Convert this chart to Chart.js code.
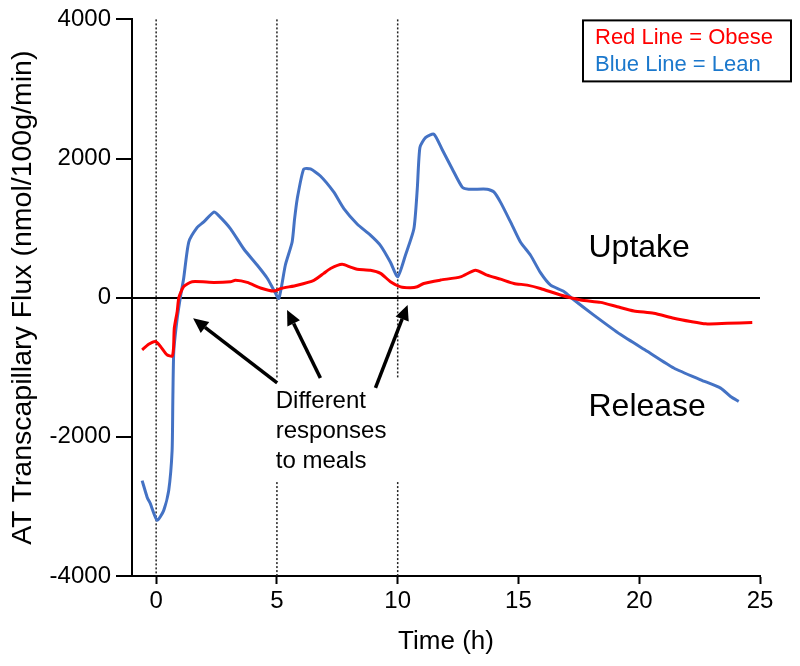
<!DOCTYPE html>
<html>
<head>
<meta charset="utf-8">
<style>
  html, body { margin: 0; padding: 0; background: #fff; }
  #wrap { width: 800px; height: 666px; }
</style>
<script src="https://cdn.jsdelivr.net/npm/chart.js@4.4.0/dist/chart.umd.min.js"></script>
</head>
<body>
<div id="wrap"><canvas id="fluxChart"></canvas></div>
<script>
// Lean (blue) and obese (red) AT transcapillary flux over 24 h
const leanTime = [-0.58, -0.37, -0.24, 0.04, 0.31, 0.52, 0.66, 0.69, 0.73, 0.87, 1.0, 1.14, 1.35, 1.7, 1.97, 2.39, 2.59, 3.08, 3.63, 4.18, 4.6, 4.87, 5.08, 5.35, 5.63, 5.73, 5.84, 6.11, 6.39, 6.8, 7.35, 7.77, 8.32, 8.87, 9.29, 9.7, 10.0, 10.32, 10.67, 10.81, 10.92, 11.15, 11.5, 11.84, 12.26, 12.67, 12.94, 13.7, 13.98, 14.26, 14.67, 15.08, 15.5, 15.91, 16.33, 16.88, 17.29, 18.12, 19.23, 20.33, 21.43, 22.54, 23.37, 23.78, 24.12];
const leanFlux = [-2630, -2870, -2960, -3200, -3060, -2770, -2200, -1490, -770, -300, 0, 280, 800, 1010, 1090, 1230, 1180, 990, 700, 470, 280, 110, -10, 470, 800, 1130, 1420, 1850, 1850, 1750, 1520, 1280, 1060, 900, 750, 510, 300, 610, 990, 1560, 2160, 2300, 2350, 2130, 1850, 1590, 1560, 1560, 1520, 1370, 1090, 800, 610, 360, 180, 90, -30, -250, -530, -770, -1010, -1180, -1300, -1420, -1490];

const obeseTime = [-0.58, -0.31, -0.03, 0.18, 0.45, 0.66, 0.72, 0.75, 0.87, 0.94, 1.14, 1.49, 2.39, 3.08, 3.28, 3.77, 4.32, 4.87, 5.15, 5.84, 6.53, 6.94, 7.22, 7.7, 8.05, 8.32, 8.87, 9.29, 9.7, 10.12, 10.53, 10.81, 11.08, 11.77, 12.6, 13.22, 13.7, 14.26, 14.81, 15.36, 15.91, 16.74, 17.57, 18.4, 19.09, 19.78, 20.6, 21.43, 22.13, 22.75, 23.64, 24.68];
const obeseFlux = [-750, -670, -630, -700, -820, -840, -720, -440, -200, 0, 160, 230, 220, 230, 250, 220, 140, 95, 130, 180, 250, 350, 420, 480, 440, 410, 395, 350, 230, 155, 143, 157, 205, 253, 300, 395, 324, 267, 205, 181, 133, 38, -33, -67, -129, -190, -224, -296, -343, -376, -367, -357];

const xTicks = [0, 5, 10, 15, 20, 25];
const yTicks = [-4000, -2000, 0, 2000, 4000];
const mealTimes = [0, 5, 10];

const FONT = "'Liberation Sans', Arial, Helvetica, sans-serif";
const RED = '#ff0000';
const BLUE = '#4472c4';

function toPoints(xs, ys) {
    return xs.map((x, i) => ({ x: x, y: ys[i] }));
}

function drawArrow(ctx, x1, y1, x2, y2) {
    const ang = Math.atan2(y2 - y1, x2 - x1);
    const head = 15, half = 7;
    const bx = x2 - head * Math.cos(ang), by = y2 - head * Math.sin(ang);
    ctx.beginPath();
    ctx.moveTo(x1, y1);
    ctx.lineTo(bx, by);
    ctx.stroke();
    ctx.beginPath();
    ctx.moveTo(x2, y2);
    ctx.lineTo(bx + half * Math.sin(ang), by - half * Math.cos(ang));
    ctx.lineTo(bx - half * Math.sin(ang), by + half * Math.cos(ang));
    ctx.closePath();
    ctx.fill();
}

// dotted meal lines, labels, arrows and the boxed legend
const annotations = {
    id: 'annotations',
    beforeDatasetsDraw(chart) {
        const { ctx, scales: { x, y } } = chart;
        ctx.save();
        ctx.strokeStyle = '#222';
        ctx.lineWidth = 1.5;
        ctx.setLineDash([2, 2]);
        mealTimes.forEach(t => {
            const px = x.getPixelForValue(t);
            const segs = t === 0 ? [[4000, -4000]] : [[4000, -1150], [-2650, -4000]];
            segs.forEach(s => {
                ctx.beginPath();
                ctx.moveTo(px, y.getPixelForValue(s[0]));
                ctx.lineTo(px, y.getPixelForValue(s[1]));
                ctx.stroke();
            });
        });
        ctx.restore();
    },
    afterDatasetsDraw(chart) {
        const { ctx, chartArea, scales: { x, y } } = chart;
        ctx.save();
        ctx.fillStyle = '#000';
        ctx.textAlign = 'left';
        ctx.textBaseline = 'alphabetic';

        ctx.font = '32px ' + FONT;
        ctx.fillText('Uptake', x.getPixelForValue(17.9), y.getPixelForValue(586));
        ctx.fillText('Release', x.getPixelForValue(17.9), y.getPixelForValue(-1700));

        ctx.font = '24px ' + FONT;
        const tx = x.getPixelForValue(4.95);
        ctx.fillText('Different', tx, y.getPixelForValue(-1586));
        ctx.fillText('responses', tx, y.getPixelForValue(-2020));
        ctx.fillText('to meals', tx, y.getPixelForValue(-2443));

        ctx.strokeStyle = '#000';
        ctx.lineWidth = 3.5;
        const arrows = [
            [5.01, -1225, 1.53, -296],
            [6.8, -1153, 5.42, -176],
            [9.08, -1296, 10.41, -104]
        ];
        arrows.forEach(a => drawArrow(ctx,
            x.getPixelForValue(a[0]), y.getPixelForValue(a[1]),
            x.getPixelForValue(a[2]), y.getPixelForValue(a[3])));

        // legend box
        const bx = chartArea.right - 177, by = chartArea.top + 1;
        ctx.lineWidth = 2;
        ctx.strokeRect(bx, by, 208, 61);
        ctx.font = '22px ' + FONT;
        ctx.fillStyle = RED;
        ctx.fillText(chart.data.datasets[0].label, bx + 12, by + 24);
        ctx.fillStyle = '#1b78cc';
        ctx.fillText(chart.data.datasets[1].label, bx + 12, by + 51);
        ctx.restore();
    }
};

const ctx = document.getElementById('fluxChart').getContext('2d');
const fluxChart = new Chart(ctx, {
    type: 'line',
    data: {
        datasets: [{
            label: 'Red Line = Obese',
            data: toPoints(obeseTime, obeseFlux),
            borderColor: RED,
            borderWidth: 3,
            pointRadius: 0,
            tension: 0.2,
            fill: false
        }, {
            label: 'Blue Line = Lean',
            data: toPoints(leanTime, leanFlux),
            borderColor: BLUE,
            borderWidth: 3,
            pointRadius: 0,
            tension: 0.2,
            fill: false
        }]
    },
    options: {
        responsive: true,
        maintainAspectRatio: false,
        animation: false,
        layout: {
            padding: { top: 16, right: 40, left: 0, bottom: 0 }
        },
        plugins: {
            legend: { display: false },
            tooltip: { enabled: false },
            title: { display: false }
        },
        scales: {
            x: {
                type: 'linear',
                min: -1,
                max: 25,
                afterBuildTicks: function (scale) {
                    scale.ticks = xTicks.map(v => ({ value: v }));
                },
                afterFit: function (scale) {
                    scale.height = 90;
                },
                border: { display: true, color: '#000', width: 2 },
                grid: {
                    drawOnChartArea: false,
                    tickLength: 8,
                    tickColor: '#000',
                    tickWidth: 2
                },
                ticks: {
                    color: '#000',
                    padding: 3,
                    maxRotation: 0,
                    font: { family: FONT, size: 24 },
                    callback: function (value) {
                        return String(value);
                    }
                },
                title: {
                    display: true,
                    text: 'Time (h)',
                    color: '#000',
                    padding: { top: 0, bottom: 9 },
                    font: { family: FONT, size: 26 }
                }
            },
            y: {
                type: 'linear',
                min: -4000,
                max: 4000,
                afterBuildTicks: function (scale) {
                    scale.ticks = yTicks.map(v => ({ value: v }));
                },
                afterFit: function (scale) {
                    scale.width = 132;
                },
                border: { display: true, color: '#000', width: 2 },
                grid: {
                    drawOnChartArea: true,
                    color: function (c) {
                        return c.tick && c.tick.value === 0 ? '#000' : 'rgba(0,0,0,0)';
                    },
                    lineWidth: 2,
                    tickLength: 16,
                    tickColor: '#000',
                    tickWidth: 2
                },
                ticks: {
                    color: '#000',
                    padding: 5,
                    font: { family: FONT, size: 24 },
                    callback: function (value) {
                        return String(value);
                    }
                },
                title: {
                    display: true,
                    text: 'AT Transcapillary Flux (nmol/100g/min)',
                    color: '#000',
                    padding: { top: 6, bottom: 0 },
                    font: { family: FONT, size: 28.5 }
                }
            }
        }
    },
    plugins: [annotations]
});
</script>
</body>
</html>
